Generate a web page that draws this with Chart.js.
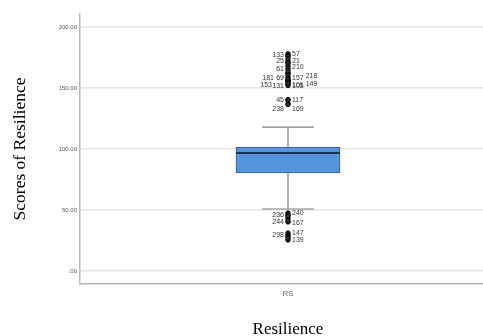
<!DOCTYPE html>
<html>
<head>
<meta charset="utf-8">
<script src="https://cdn.jsdelivr.net/npm/chart.js@4.4.0/dist/chart.umd.min.js"></script>
<style>
    html, body { margin: 0; padding: 0; background: #fff; overflow: hidden; }
    #wrap { position: relative; width: 501px; height: 336px; }
</style>
</head>
<body>
<div id="wrap"><canvas id="boxChart"></canvas></div>
<script>
// Data
const category = "RS";
const yTicks = [0, 50, 100, 150, 200];
const boxStats = [80.3, 96.7, 101.6]; // Q1, median, Q3
const whiskers = [50.8, 118]; // lower, upper
const outlierValues = [
    178, 177, 176, 172, 171, 170, 162, 162, 160, 158, 156, 156, 156, 153, 152,
    174, 168, 166, 164, 157, 155, 154,
    140.5, 140, 137, 136.5,
    47.5, 46, 43, 40.2, 31.1, 29.5, 25.4,
    45, 41, 28, 27,
];
const outlierLabels = [
    "57", "133", "21", "25", "210", "61", "157", "69", "218", "181", "105", "131", "153", "149", "101",
    "", "", "", "", "", "", "",
    "117", "45", "169", "238",
    "240", "236", "167", "244", "147", "298", "139",
    "", "", "", "",
];

const colors = {
    box: "#5694e0",
    boxBorder: "#3d5778",
    median: "#1e3350",
    whisker: "#808080",
    grid: "#e6e6e6",
    axis: "#b8b8b8",
    tick: "#555555",
};

const X = 1; // box centre on the linear x axis

// labels next to outliers, pushed aside when they collide
const outlierLabelPlugin = {
    id: "outlierLabels",
    afterDatasetsDraw(chart) {
        const meta = chart.getDatasetMeta(1);
        const ctx = chart.ctx;
        ctx.save();
        ctx.font = '7px "Liberation Sans", Arial, sans-serif';
        ctx.fillStyle = "#333";
        ctx.textBaseline = "middle";
        const placed = [];
        meta.data.forEach((pt, i) => {
            const txt = outlierLabels[i];
            if (!txt) return;
            const w = ctx.measureText(txt).width;
            const h = 6;
            const cands = [
                [4, 0], [-4 - w, 0], [4, -5], [-4 - w, -5], [4, 5], [-4 - w, 5],
                [6 + w, 0], [-14 - w, 0], [14, -4], [-16 - w, -4], [14, 4], [-16 - w, 4],
            ];
            let pos = cands[0];
            for (const c of cands) {
                const bx = pt.x + c[0], by = pt.y + c[1] - h / 2;
                const hit = placed.some(p => bx < p.x + p.w && bx + w > p.x && by < p.y + p.h && by + h > p.y);
                if (!hit) { pos = c; break; }
            }
            const lx = pt.x + pos[0], ly = pt.y + pos[1];
            placed.push({ x: lx, y: ly - h / 2, w: w, h: h });
            ctx.fillText(txt, lx, ly);
        });
        ctx.restore();
    },
};

const lineSet = (points, color, width) => ({
    type: "line",
    data: points,
    borderColor: color,
    borderWidth: width,
    pointRadius: 0,
    fill: false,
});

const ctx = document.getElementById("boxChart").getContext("2d");
new Chart(ctx, {
    data: {
        datasets: [
            // median
            lineSet([{ x: X - 0.25, y: boxStats[1] }, { x: X + 0.25, y: boxStats[1] }], colors.median, 2),
            // outliers
            {
                type: "scatter",
                data: outlierValues.map(v => ({ x: X, y: v })),
                pointRadius: 2.2,
                pointBorderWidth: 1,
                pointBackgroundColor: "#333",
                pointBorderColor: "#000",
            },
            // box
            {
                type: "bar",
                data: [{ x: X, y: [boxStats[0], boxStats[2]] }],
                backgroundColor: colors.box,
                borderColor: colors.boxBorder,
                borderWidth: 1,
                borderSkipped: false,
                barThickness: 104,
            },
            // whiskers and caps
            lineSet([{ x: X, y: boxStats[2] }, { x: X, y: whiskers[1] }], colors.whisker, 1.2),
            lineSet([{ x: X, y: boxStats[0] }, { x: X, y: whiskers[0] }], colors.whisker, 1.2),
            lineSet([{ x: X - 0.125, y: whiskers[1] }, { x: X + 0.125, y: whiskers[1] }], colors.whisker, 1.2),
            lineSet([{ x: X - 0.125, y: whiskers[0] }, { x: X + 0.125, y: whiskers[0] }], colors.whisker, 1.2),
        ],
    },
    options: {
        responsive: true,
        maintainAspectRatio: false,
        animation: false,
        events: [],
        layout: { padding: { top: 14, left: 0, right: 0, bottom: 0 } },
        plugins: {
            legend: { display: false },
            tooltip: { enabled: false },
        },
        scales: {
            x: {
                type: "linear",
                min: 0,
                max: 2,
                offset: false,
                afterBuildTicks: s => { s.ticks = [{ value: X }]; },
                afterFit: s => { s.height = 52; },
                ticks: {
                    callback: () => category,
                    color: "#666",
                    padding: 5,
                    font: { family: "Liberation Sans", size: 8 },
                },
                grid: { display: false, drawTicks: false, offset: false },
                border: { color: colors.axis, width: 1.5 },
                title: {
                    display: true,
                    text: "Resilience",
                    color: "#000",
                    padding: { top: 0, bottom: 0 },
                    font: { family: "Liberation Serif", size: 17, lineHeight: 0.8 },
                },
            },
            y: {
                min: -10.66,
                max: 210.66,
                afterBuildTicks: s => { s.ticks = yTicks.map(v => ({ value: v })); },
                afterFit: s => { s.width = 80; },
                ticks: {
                    callback: v => (v === 0 ? ".00" : v.toFixed(2)),
                    color: colors.tick,
                    padding: 3,
                    font: { family: "Liberation Sans", size: 6 },
                },
                grid: { color: colors.grid, lineWidth: 1.5, drawTicks: false },
                border: { color: colors.axis, width: 1.5 },
                title: {
                    display: true,
                    text: "Scores of Resilience",
                    color: "#000",
                    padding: { top: 10, bottom: 0 },
                    font: { family: "Liberation Serif", size: 17.5 },
                },
            },
        },
    },
    plugins: [outlierLabelPlugin],
});
</script>
</body>
</html>
